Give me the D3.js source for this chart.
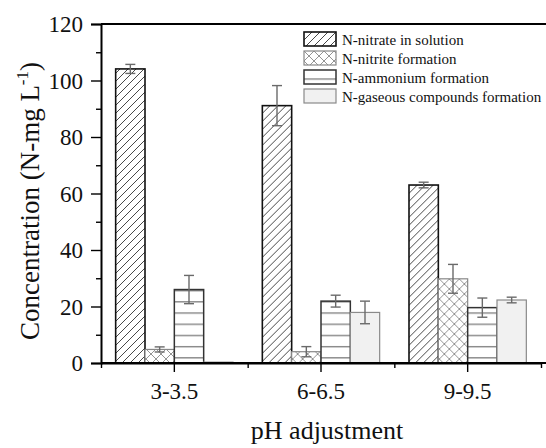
<!DOCTYPE html>
<html>
<head>
<meta charset="utf-8">
<script src="https://cdn.jsdelivr.net/npm/d3@7"></script>
<style>
  body { margin: 0; background: #fff; }
  svg text { font-family: "Liberation Serif", "Times New Roman", serif; fill: #111; }
</style>
</head>
<body>
<svg width="546" height="448"></svg>
<script>
const categories = ['3-3.5', '6-6.5', '9-9.5'];
const seriesNames = ['N-nitrate in solution', 'N-nitrite formation', 'N-ammonium formation', 'N-gaseous compounds formation'];
const nitrate = [104.1, 91.1, 63.0];
const nitrateErr = [1.6, 7.1, 1.0];
const nitrite = [4.8, 4.0, 29.8];
const nitriteErr = [0.9, 1.8, 5.1];
const ammonium = [26.0, 21.9, 19.6];
const ammoniumErr = [5.0, 2.1, 3.4];
const gaseous = [0.3, 17.9, 22.3];
const gaseousErr = [0, 4.0, 1.0];
const yTicks = [0, 20, 40, 60, 80, 100, 120];

const values = [nitrate, nitrite, ammonium, gaseous];
const errors = [nitrateErr, nitriteErr, ammoniumErr, gaseousErr];

const svg = d3.select('svg');
const margin = { top: 24, right: 5, bottom: 85, left: 101 };
const innerWidth = 440;
const innerHeight = 339;

const defs = svg.append('defs');

// hatch patterns
const diag = defs.append('pattern').attr('id', 'p0')
  .attr('patternUnits', 'userSpaceOnUse').attr('width', 8).attr('height', 8);
diag.append('rect').attr('width', 8).attr('height', 8).attr('fill', '#fff');
diag.append('path').attr('d', 'M-2,2 L2,-2 M0,8 L8,0 M6,10 L10,6')
  .attr('stroke', '#333').attr('stroke-width', 0.9);

const cross = defs.append('pattern').attr('id', 'p1')
  .attr('patternUnits', 'userSpaceOnUse').attr('width', 10).attr('height', 10);
cross.append('rect').attr('width', 10).attr('height', 10).attr('fill', '#fff');
cross.append('path').attr('d', 'M0,0 L10,10 M0,10 L10,0')
  .attr('stroke', '#888').attr('stroke-width', 0.9);

const horiz = defs.append('pattern').attr('id', 'p2')
  .attr('patternUnits', 'userSpaceOnUse').attr('width', 10).attr('height', 11.2)
  .attr('y', margin.top + innerHeight);
horiz.append('rect').attr('width', 10).attr('height', 11.2).attr('fill', '#fff');
horiz.append('line').attr('x1', 0).attr('x2', 10).attr('y1', 4.5).attr('y2', 4.5)
  .attr('stroke', '#555').attr('stroke-width', 1);

const fills = ['url(#p0)', 'url(#p1)', 'url(#p2)', '#f1f1f1'];
const strokes = ['#111', '#888', '#333', '#8a8a8a'];
const strokeW = [1.6, 1.2, 1.5, 1.2];

const g = svg.append('g')
  .attr('transform', `translate(${margin.left},${margin.top})`);

const x0 = d3.scaleBand().domain(categories).range([0, innerWidth]);
const x1 = d3.scaleBand().domain(d3.range(4))
  .range([x0.bandwidth() * 0.1, x0.bandwidth() * 0.9]);
const yScale = d3.scaleLinear().domain([0, 120]).range([innerHeight, 0]);

// bars
const groups = g.selectAll('.grp').data(categories).enter().append('g')
  .attr('transform', d => `translate(${x0(d)},0)`);

groups.each(function(cat, ci) {
  const grp = d3.select(this);
  const recs = d3.range(4).map(si => ({ si, v: values[si][ci], e: errors[si][ci] }));
  grp.selectAll('rect').data(recs).enter().append('rect')
    .attr('x', d => x1(d.si))
    .attr('y', d => yScale(d.v))
    .attr('width', x1.bandwidth())
    .attr('height', d => yScale(0) - yScale(d.v))
    .attr('fill', d => fills[d.si])
    .attr('stroke', d => strokes[d.si])
    .attr('stroke-width', d => strokeW[d.si]);

  const eb = grp.selectAll('.err').data(recs.filter(d => d.e > 0)).enter().append('g')
    .attr('stroke', '#6a6a6a').attr('stroke-width', 1.4);
  const cx = d => x1(d.si) + x1.bandwidth() / 2;
  eb.append('line').attr('x1', cx).attr('x2', cx)
    .attr('y1', d => yScale(d.v + d.e)).attr('y2', d => yScale(d.v - d.e));
  eb.append('line').attr('x1', d => cx(d) - 5).attr('x2', d => cx(d) + 5)
    .attr('y1', d => yScale(d.v + d.e)).attr('y2', d => yScale(d.v + d.e));
  eb.append('line').attr('x1', d => cx(d) - 5).attr('x2', d => cx(d) + 5)
    .attr('y1', d => yScale(d.v - d.e)).attr('y2', d => yScale(d.v - d.e));
});

// y axis
const yAxisG = g.append('g')
  .call(d3.axisLeft(yScale).tickValues(yTicks).tickSize(10).tickPadding(8))
  .attr('font-family', null).attr('font-size', null);
yAxisG.selectAll('text').attr('font-size', 23).attr('dy', '0.34em');
const yMinorG = g.append('g')
  .call(d3.axisLeft(yScale).tickValues(d3.range(10, 120, 20)).tickSize(5).tickFormat(''));
yMinorG.select('.domain').remove();
yMinorG.selectAll('text').remove();

// x axis
const xAxisG = g.append('g').attr('transform', `translate(0,${innerHeight})`)
  .call(d3.axisBottom(x0).tickSize(9).tickSizeOuter(0).tickPadding(11))
  .attr('font-family', null).attr('font-size', null);
xAxisG.selectAll('text').attr('font-size', 23);
const xMinor = d3.scaleLinear().domain([0, 3]).range([0, innerWidth]);
const xMinorG = xAxisG.append('g')
  .call(d3.axisBottom(xMinor).tickValues([0, 1, 2, 3]).tickSize(5).tickFormat(''));
xMinorG.select('.domain').remove();
xMinorG.selectAll('text').remove();
xAxisG.append('line').attr('x1', 0).attr('x2', 546 - margin.left)
  .attr('stroke', '#000').attr('stroke-width', 2);

svg.selectAll('.domain').attr('stroke-width', 2);
svg.selectAll('.tick line').attr('stroke-width', 1.4);

// top frame line
g.append('line').attr('x1', 0).attr('x2', 546 - margin.left)
  .attr('y1', 0).attr('y2', 0).attr('stroke', '#000').attr('stroke-width', 2);

// axis titles
svg.append('text').attr('x', 327).attr('y', 421).attr('dy', '0.71em').attr('text-anchor', 'middle')
  .attr('font-size', 26).text('pH adjustment');

const yt = svg.append('text').attr('transform', 'translate(30,201) rotate(-90)')
  .attr('text-anchor', 'middle').attr('font-size', 27).attr('dy', '0.35em');
yt.append('tspan').text('Concentration (N-mg L');
yt.append('tspan').attr('dy', -11).attr('font-size', 17).text('-1');
yt.append('tspan').attr('dy', 11).text(')');

// legend
const legend = svg.append('g').attr('transform', 'translate(304,32)');
const li = legend.selectAll('g').data(seriesNames).enter().append('g')
  .attr('transform', (d, i) => `translate(0,${i * 19})`);
li.append('rect').attr('width', 32).attr('height', 14)
  .attr('fill', (d, i) => fills[i]).attr('stroke', (d, i) => strokes[i])
  .attr('stroke-width', (d, i) => strokeW[i]);
li.append('text').attr('x', 38).attr('y', 8).attr('dy', '0.32em').attr('font-size', 15).text(d => d);
</script>
</body>
</html>
